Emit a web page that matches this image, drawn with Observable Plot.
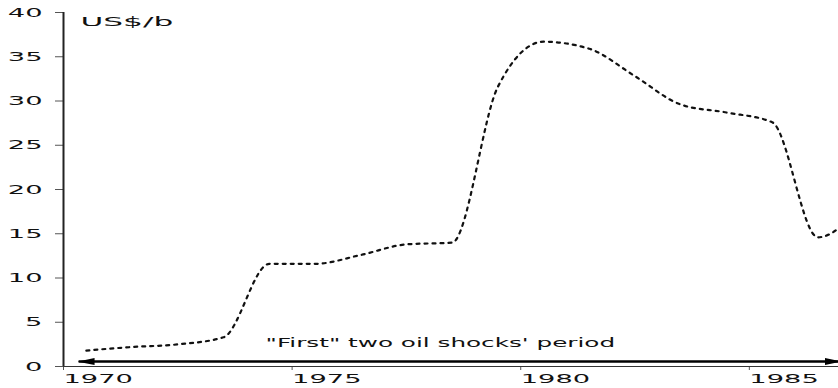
<!DOCTYPE html>
<html>
<head>
<meta charset="utf-8">
<script src="https://cdn.jsdelivr.net/npm/d3@7"></script>
<script src="https://cdn.jsdelivr.net/npm/@observablehq/plot@0.6"></script>
<style>
  body { margin: 0; background: #fff; overflow: hidden; }
  #chart svg { display: block; }
</style>
</head>
<body>
<div id="chart"></div>
<script>
// ---- data ----
const years  = [1970, 1971, 1972, 1973, 1974, 1975, 1976, 1977, 1978, 1979, 1980, 1981, 1982, 1983, 1984, 1985, 1986, 1987];
const prices = [1.8, 2.2, 2.5, 3.3, 11.6, 11.6, 12.6, 13.8, 14.0, 31.6, 36.7, 35.9, 32.8, 29.6, 28.7, 27.6, 14.6, 18.5];
const yTicks = [0, 5, 10, 15, 20, 25, 30, 35, 40];
const xTicks = [1970, 1975, 1980, 1985];
const unitLabel = "US$/b";
const periodLabel = "\"First\" two oil shocks' period";
const periodStart = [1970.33];
const periodEnd = [1987];

const series = years.map((y, i) => ({year: y, price: prices[i]}));
const period = [{x: periodStart[0]}, {x: periodEnd[0]}];

function headMarker(color) {
  const ns = "http://www.w3.org/2000/svg";
  const m = document.createElementNS(ns, "marker");
  m.setAttribute("viewBox", "0 -4 17 8");
  m.setAttribute("refX", "16");
  m.setAttribute("refY", "0");
  m.setAttribute("markerWidth", "17");
  m.setAttribute("markerHeight", "8");
  m.setAttribute("markerUnits", "userSpaceOnUse");
  m.setAttribute("orient", "auto-start-reverse");
  const p = document.createElementNS(ns, "path");
  p.setAttribute("d", "M0,-3.5L17,0L0,3.5Z");
  p.setAttribute("fill", color);
  p.setAttribute("stroke", "none");
  m.appendChild(p);
  return m;
}

const chart = Plot.plot({
  width: 838,
  height: 388,
  marginLeft: 63,
  marginRight: 0,
  marginTop: 12,
  marginBottom: 22,
  style: {fontFamily: "DejaVu Sans", fontSize: "13px", color: "#111", background: "#fff"},
  x: {domain: [1970, 1986.95]},
  y: {domain: [0, 40]},
  marks: [
    Plot.axisY({ticks: yTicks, tickSize: 8, tickPadding: 13, label: null, stroke: "#555", fill: "#111"}),
    Plot.axisX({ticks: xTicks, tickSize: 4, tickPadding: 3, textAnchor: "start", tickFormat: d => String(d), label: null, stroke: "#555", fill: "#111"}),
    Plot.ruleY([0], {stroke: "#333", strokeWidth: 1}),
    Plot.ruleX([1970], {stroke: "#222", strokeWidth: 2}),
    Plot.line(series, {
      x: d => d.year + 0.5, y: "price",
      stroke: "#111", strokeWidth: 2.2, strokeDasharray: "3,5",
      curve: "monotone-x"
    }),
    Plot.line(period, {
      x: "x", y: () => 0.56,
      stroke: "#000", strokeWidth: 2.6, strokeLinecap: "butt",
      markerStart: headMarker, markerEnd: headMarker
    }),
    Plot.text([periodLabel], {x: 1974.42, y: 2.15, text: d => d, textAnchor: "start", lineAnchor: "bottom", fill: "#111"}),
    Plot.text([unitLabel], {x: 1970.37, y: 38.5, text: d => d, textAnchor: "start", lineAnchor: "bottom", fill: "#111"})
  ]
});

// horizontally stretched lettering, as in the reference
chart.querySelectorAll("text").forEach(t => {
  const s = t.textContent;
  const k = s === unitLabel ? 2.4 : s === periodLabel ? 1.9 : 2.1;
  let tr = t.getAttribute("transform");
  if (!tr) {
    const x = +(t.getAttribute("x") || 0), y = +(t.getAttribute("y") || 0);
    t.removeAttribute("x"); t.removeAttribute("y");
    tr = `translate(${x},${y})`;
  }
  t.setAttribute("transform", `${tr} scale(${k},1)`);
});

document.getElementById("chart").appendChild(chart);
</script>
</body>
</html>
